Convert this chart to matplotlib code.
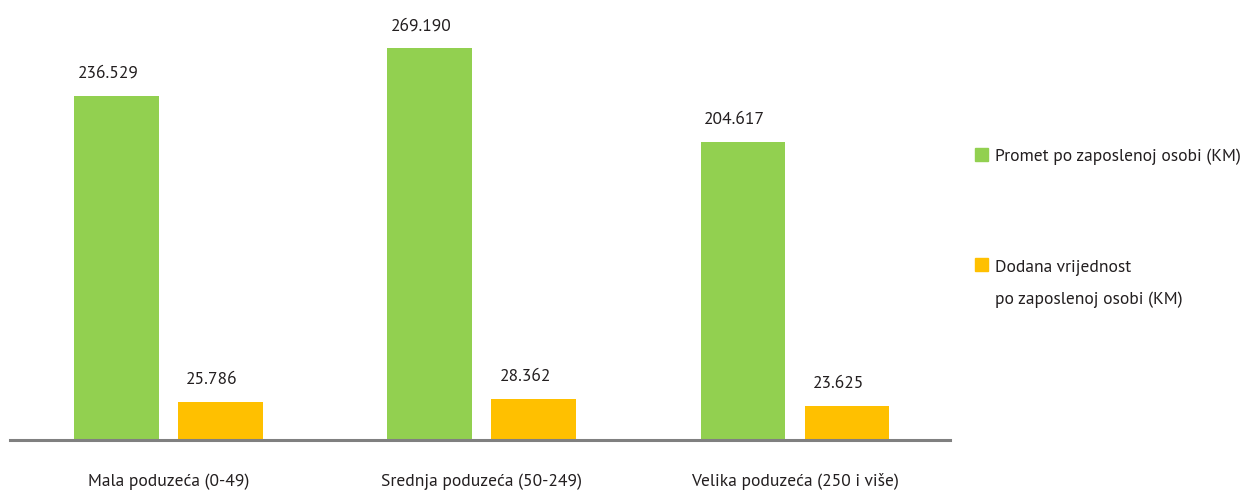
import matplotlib
matplotlib.use("Agg")
import matplotlib.pyplot as plt
from matplotlib.patches import Rectangle
import numpy as np

plt.rcParams['font.family'] = ['PT Sans', 'Lato', 'DejaVu Sans']

categories = ['Mala poduzeća (0-49)', 'Srednja poduzeća (50-249)', 'Velika poduzeća (250 i više)']
promet = [236529, 269190, 204617]
dodana = [25786, 28362, 23625]
series_names = ['Promet po zaposlenoj osobi (KM)', 'Dodana vrijednost\npo zaposlenoj osobi (KM)']

green = '#92D050'
orange = '#FFC000'
txt = '#231f20'
fs = 12.6

fig = plt.figure(figsize=(12.42, 4.92), dpi=100)
W, H = 1242, 492
ax = fig.add_axes([10 / W, 1 - 440 / H, 940 / W, 440 / H])

x = np.arange(len(categories))
w = 0.27
b1 = ax.bar(x - 0.166, promet, w, color=green)
b2 = ax.bar(x + 0.166, dodana, w, color=orange)

def fmt(v):
    return f"{v:,}".replace(',', '.')

for bars in (b1, b2):
    for r in bars:
        ax.annotate(fmt(int(r.get_height())), (r.get_x() + r.get_width() / 2, r.get_height()),
                    xytext=(-6, 13), textcoords='offset points', ha='center', va='baseline',
                    fontsize=fs, color=txt)

ax.set_xlim(-0.505, 2.495)
ax.set_ylim(0, 302400)
for s in ['top', 'right', 'left']:
    ax.spines[s].set_visible(False)
ax.spines['bottom'].set_color('#808080')
ax.spines['bottom'].set_linewidth(2.2)
ax.set_yticks([])
ax.set_xticks(x)
ax.set_xticklabels(categories, fontsize=fs, color=txt)
ax.tick_params(axis='x', length=0, pad=24)

# legend
for i, (name, col) in enumerate(zip(series_names, [green, orange])):
    ytop = [148, 258][i]
    fig.patches.append(Rectangle((975 / W, 1 - (ytop + 13) / H), 13 / W, 13 / H,
                                 transform=fig.transFigure, color=col, figure=fig))
    if i == 0:
        fig.text(995 / W, 1 - (ytop + 7) / H, name, fontsize=fs, color=txt,
                 va='center_baseline', ha='left')
    else:
        fig.text(995 / W, 1 - (ytop + 2) / H, name, fontsize=fs, color=txt,
                 va='top', ha='left', linespacing=2.25)

fig.savefig('out.png', dpi=100)
